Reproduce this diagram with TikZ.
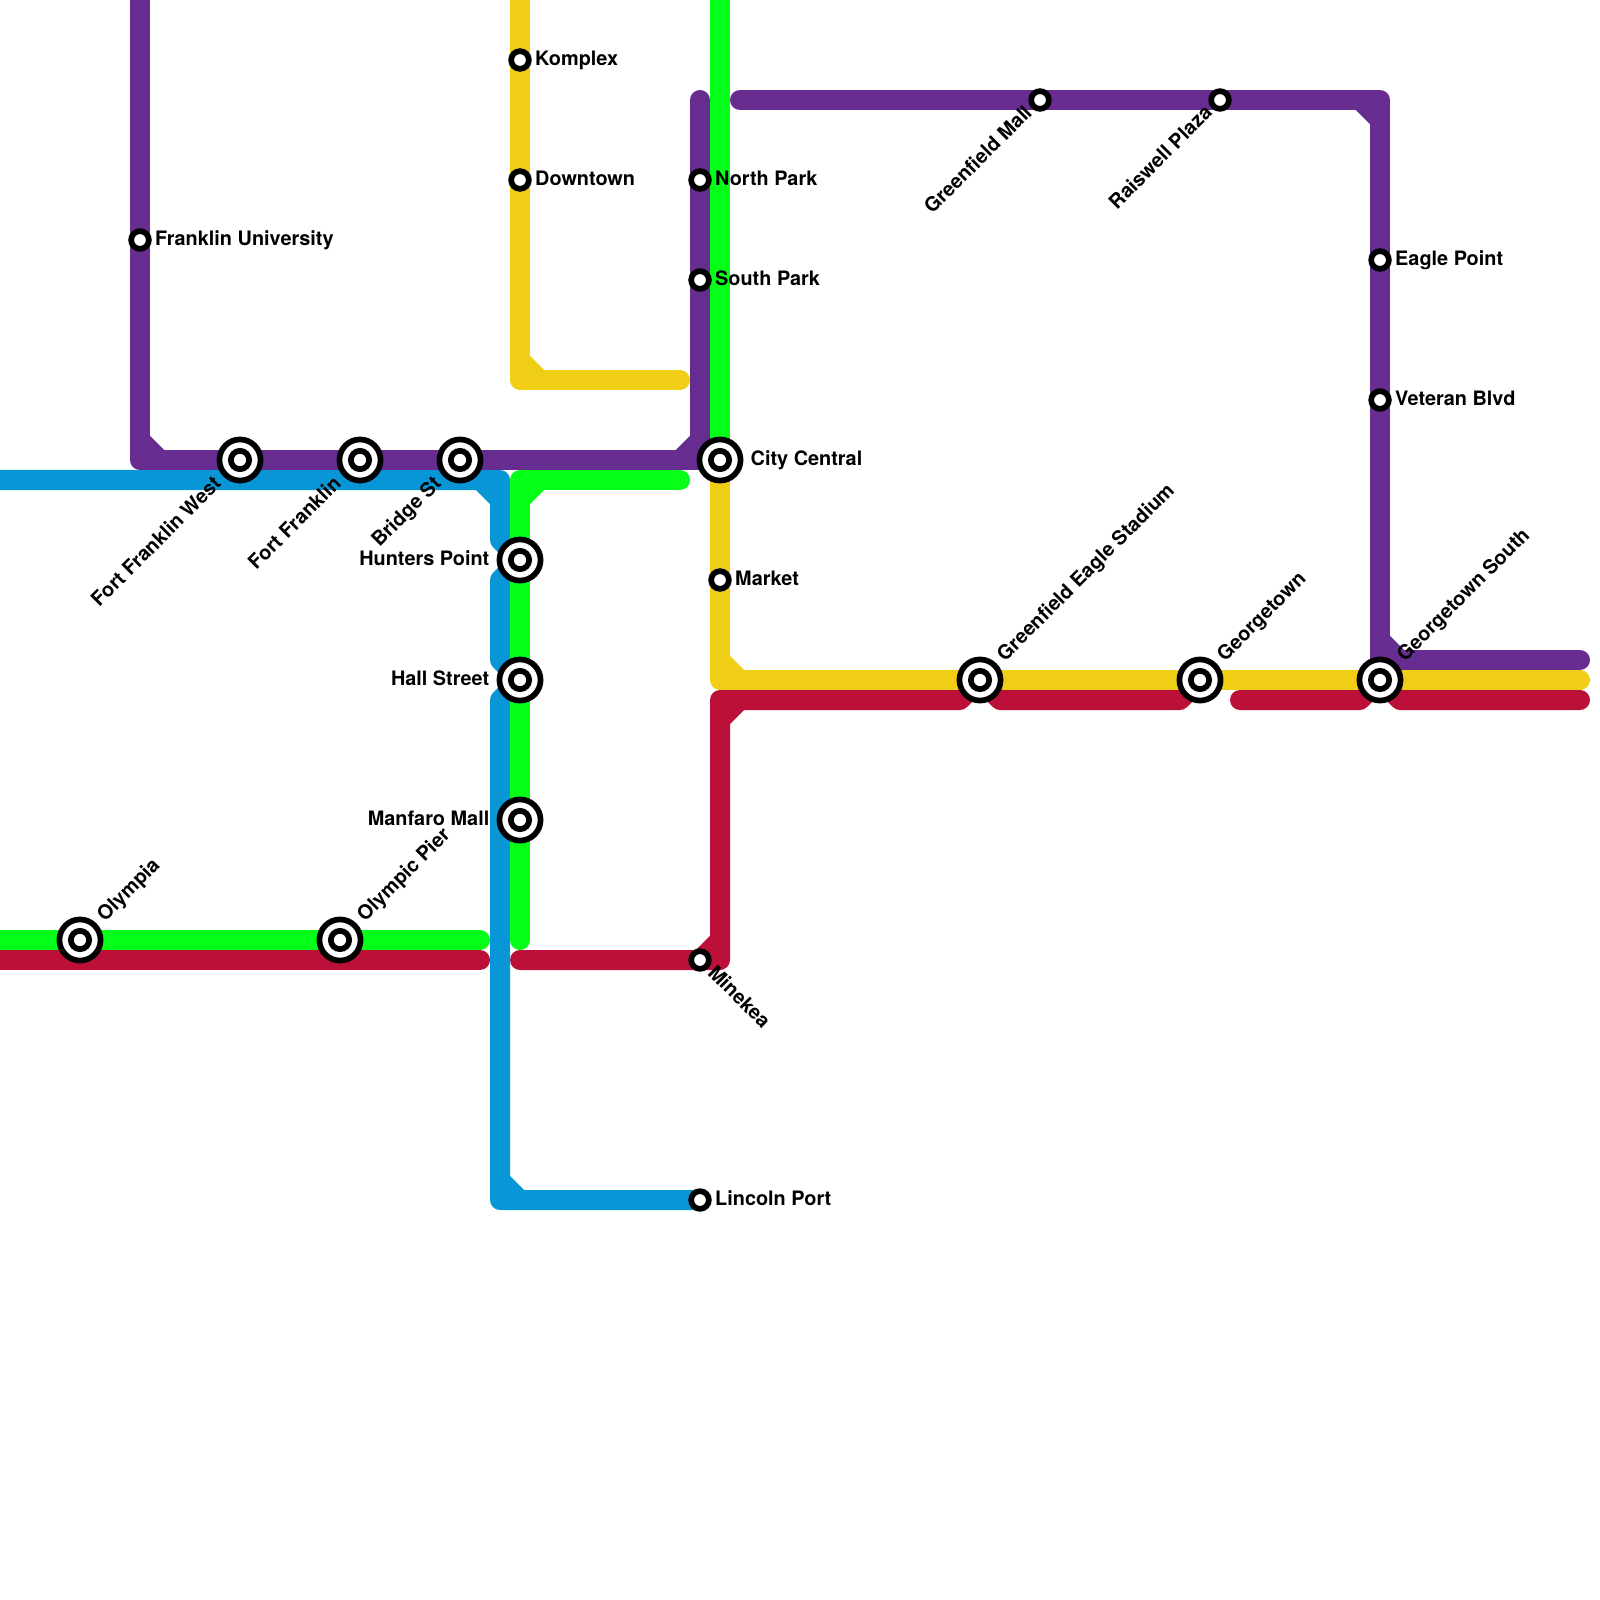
\documentclass[tikz,border=0pt]{standalone}
\usepackage{xcolor}
\usepackage{fontspec}
\setmainfont{TeX Gyre Heros}
\usetikzlibrary{calc,backgrounds}
\definecolor{linered}{HTML}{BD1038}
\definecolor{lineblue}{HTML}{0896D7}
\definecolor{linepurple}{HTML}{662C90}
\definecolor{linegreen}{HTML}{05FF18}
\definecolor{lineyellow}{HTML}{F0CE15}

\begin{document}
\begin{tikzpicture}[
  x=0.01cm,y=-0.01cm,
  route/.style={line width=0.2cm,line cap=round,line join=round},
  stn/.style={circle,draw=black,fill=white,line width=0.057cm,minimum size=0.177cm,inner sep=0pt},
  bigstn/.style={circle,draw=black,fill=white,line width=0.057cm,minimum size=0.411cm,inner sep=0pt,
    path picture={
      \draw[black,line width=0.057cm] (path picture bounding box.center) circle (0.0915cm);
    }},
  lbl/.style={inner sep=0pt,font=\fontsize{5.65}{6.8}\selectfont\bfseries,text=black,
    text height=3.9pt,text depth=1pt},
  up/.style={lbl,rotate=45,anchor=west},
  down/.style={lbl,rotate=45,anchor=east}
]
  \useasboundingbox (0,0) rectangle (1600,1600);

  % Line ends and bends
  \coordinate (purpletop) at (140,0);
  \coordinate (purplebend) at (140,460);
  \coordinate (purpleturn) at (700,460);
  \coordinate (purpleend) at (700,100);
  \coordinate (purplestart) at (740,100);
  \coordinate (purplecorner) at (1380,100);
  \coordinate (purplefoot) at (1380,660);
  \coordinate (purpleeast) at (1580,660);
  \coordinate (bluewest) at (0,480);
  \coordinate (bluebend) at (500,480);
  \coordinate (bluea) at (500,540);
  \coordinate (blueb) at (500,580);
  \coordinate (bluec) at (500,660);
  \coordinate (blued) at (500,700);
  \coordinate (bluefoot) at (500,1200);
  \coordinate (greentop) at (720,0);
  \coordinate (greenend) at (680,480);
  \coordinate (greenbend) at (520,480);
  \coordinate (greenfoot) at (520,940);
  \coordinate (greenwest) at (0,940);
  \coordinate (greenstop) at (480,940);
  \coordinate (yellowtop) at (520,0);
  \coordinate (yellowbend) at (520,380);
  \coordinate (yellowend) at (680,380);
  \coordinate (yellowturn) at (720,680);
  \coordinate (yelloweast) at (1580,680);
  \coordinate (redwest) at (0,960);
  \coordinate (redstop) at (480,960);
  \coordinate (redstart) at (520,960);
  \coordinate (redfoot) at (720,960);
  \coordinate (redbend) at (720,700);
  \coordinate (reda) at (960,700);
  \coordinate (redb) at (1000,700);
  \coordinate (redc) at (1180,700);
  \coordinate (redd) at (1240,700);
  \coordinate (rede) at (1360,700);
  \coordinate (redf) at (1400,700);
  \coordinate (redeast) at (1580,700);

  % Stations
  \node[stn] (franklinu) at (140,240) {};
  \node[bigstn] (fortwest) at (240,460) {};
  \node[bigstn] (fort) at (360,460) {};
  \node[bigstn] (bridge) at (460,460) {};
  \node[bigstn] (olympia) at (80,940) {};
  \node[bigstn] (pier) at (340,940) {};
  \node[bigstn] (hunters) at (520,560) {};
  \node[bigstn] (hall) at (520,680) {};
  \node[bigstn] (manfaro) at (520,820) {};
  \node[stn] (komplex) at (520,60) {};
  \node[stn] (downtown) at (520,180) {};
  \node[stn] (northpark) at (700,180) {};
  \node[stn] (southpark) at (700,280) {};
  \node[bigstn] (central) at (720,460) {};
  \node[stn] (market) at (720,580) {};
  \node[stn] (minekea) at (700,960) {};
  \node[stn] (lincoln) at (700,1200) {};
  \node[stn] (greenmall) at (1040,100) {};
  \node[stn] (raiswell) at (1220,100) {};
  \node[stn] (eagle) at (1380,260) {};
  \node[stn] (veteran) at (1380,400) {};
  \node[bigstn] (stadium) at (980,680) {};
  \node[bigstn] (georgetown) at (1200,680) {};
  \node[bigstn] (south) at (1380,680) {};

  % Lines
  \begin{scope}[on background layer]
    \draw[route,linered] (redwest) -- (redstop);
    \draw[route,linered] (redstart) -- (redfoot) -- (redbend) -- (reda) -- (stadium.center) -- (redb) -- (redc) -- (georgetown.center);
    \draw[route,linered] (redd) -- (rede) -- (south.center) -- (redf) -- (redeast);
    \draw[route,linered] ($(redfoot)+(-20,0)$) -- ($(redfoot)+(0,-20)$);
    \draw[route,linered] ($(redbend)+(0,20)$) -- ($(redbend)+(20,0)$);

    \draw[route,lineblue] (bluewest) -- (bluebend) -- (bluea) -- (hunters.center) -- (blueb) -- (bluec) -- (hall.center) -- (blued) -- (bluefoot) -- (lincoln.center);
    \draw[route,lineblue] ($(bluebend)+(-20,0)$) -- ($(bluebend)+(0,20)$);
    \draw[route,lineblue] ($(bluefoot)+(0,-20)$) -- ($(bluefoot)+(20,0)$);

    \draw[route,linepurple] (purpletop) -- (purplebend) -- (central.center);
    \draw[route,linepurple] (purpleend) -- (purpleturn);
    \draw[route,linepurple] (purplestart) -- (purplecorner) -- (purplefoot) -- (purpleeast);
    \draw[route,linepurple] ($(purplebend)+(0,-20)$) -- ($(purplebend)+(20,0)$);
    \draw[route,linepurple] ($(purpleturn)+(-20,0)$) -- ($(purpleturn)+(0,-20)$);
    \draw[route,linepurple] ($(purplecorner)+(-20,0)$) -- ($(purplecorner)+(0,20)$);
    \draw[route,linepurple] ($(purplefoot)+(0,-20)$) -- ($(purplefoot)+(20,0)$);

    \draw[route,linegreen] (greentop) -- (central.center);
    \draw[route,linegreen] (greenend) -- (greenbend) -- (greenfoot);
    \draw[route,linegreen] (greenwest) -- (greenstop);
    \draw[route,linegreen] ($(greenbend)+(20,0)$) -- ($(greenbend)+(0,20)$);

    \draw[route,lineyellow] (yellowtop) -- (yellowbend) -- (yellowend);
    \draw[route,lineyellow] (central.center) -- (yellowturn) -- (yelloweast);
    \draw[route,lineyellow] ($(yellowbend)+(0,-20)$) -- ($(yellowbend)+(20,0)$);
    \draw[route,lineyellow] ($(yellowturn)+(0,-20)$) -- ($(yellowturn)+(20,0)$);
  \end{scope}

  % Labels
  \node[lbl,anchor=west] (franklinulbl) at ($(franklinu)+(14.5,0)$) {Franklin University};
  \node[lbl,anchor=west] (komplexlbl) at ($(komplex)+(14.5,0)$) {Komplex};
  \node[lbl,anchor=west] (downtownlbl) at ($(downtown)+(14.5,0)$) {Downtown};
  \node[lbl,anchor=west] (northparklbl) at ($(northpark)+(14.5,0)$) {North Park};
  \node[lbl,anchor=west] (southparklbl) at ($(southpark)+(14.5,0)$) {South Park};
  \node[lbl,anchor=west] (marketlbl) at ($(market)+(14.5,0)$) {Market};
  \node[lbl,anchor=west] (lincolnlbl) at ($(lincoln)+(14.5,0)$) {Lincoln Port};
  \node[lbl,anchor=west] (eaglelbl) at ($(eagle)+(14.5,0)$) {Eagle Point};
  \node[lbl,anchor=west] (veteranlbl) at ($(veteran)+(14.5,0)$) {Veteran Blvd};
  \node[lbl,anchor=west] (centrallbl) at ($(central)+(30,0)$) {City Central};
  \node[lbl,anchor=east] (hunterslbl) at ($(hunters)+(-30,0)$) {Hunters Point};
  \node[lbl,anchor=east] (halllbl) at ($(hall)+(-30,0)$) {Hall Street};
  \node[lbl,anchor=east] (manfarolbl) at ($(manfaro)+(-30,0)$) {Manfaro Mall};
  \node[up] (olympialbl) at ($(olympia)+(21,-21)$) {Olympia};
  \node[up] (pierlbl) at ($(pier)+(21,-21)$) {Olympic Pier};
  \node[up] (stadiumlbl) at ($(stadium)+(21,-21)$) {Greenfield Eagle Stadium};
  \node[up] (georgetownlbl) at ($(georgetown)+(21,-21)$) {Georgetown};
  \node[up] (southlbl) at ($(south)+(21,-21)$) {Georgetown South};
  \node[down] (fortwestlbl) at ($(fortwest)+(-21,21)$) {Fort Franklin West};
  \node[down] (fortlbl) at ($(fort)+(-21,21)$) {Fort Franklin};
  \node[down] (bridgelbl) at ($(bridge)+(-21,21)$) {Bridge St};
  \node[down] (greenmalllbl) at ($(greenmall)+(-10,10)$) {Greenfield Mall};
  \node[down] (raiswelllbl) at ($(raiswell)+(-10,10)$) {Raiswell Plaza};
  \node[lbl,rotate=-45,anchor=west] (minekealbl) at ($(minekea)+(10,10)$) {Minekea};
\end{tikzpicture}
\end{document}
